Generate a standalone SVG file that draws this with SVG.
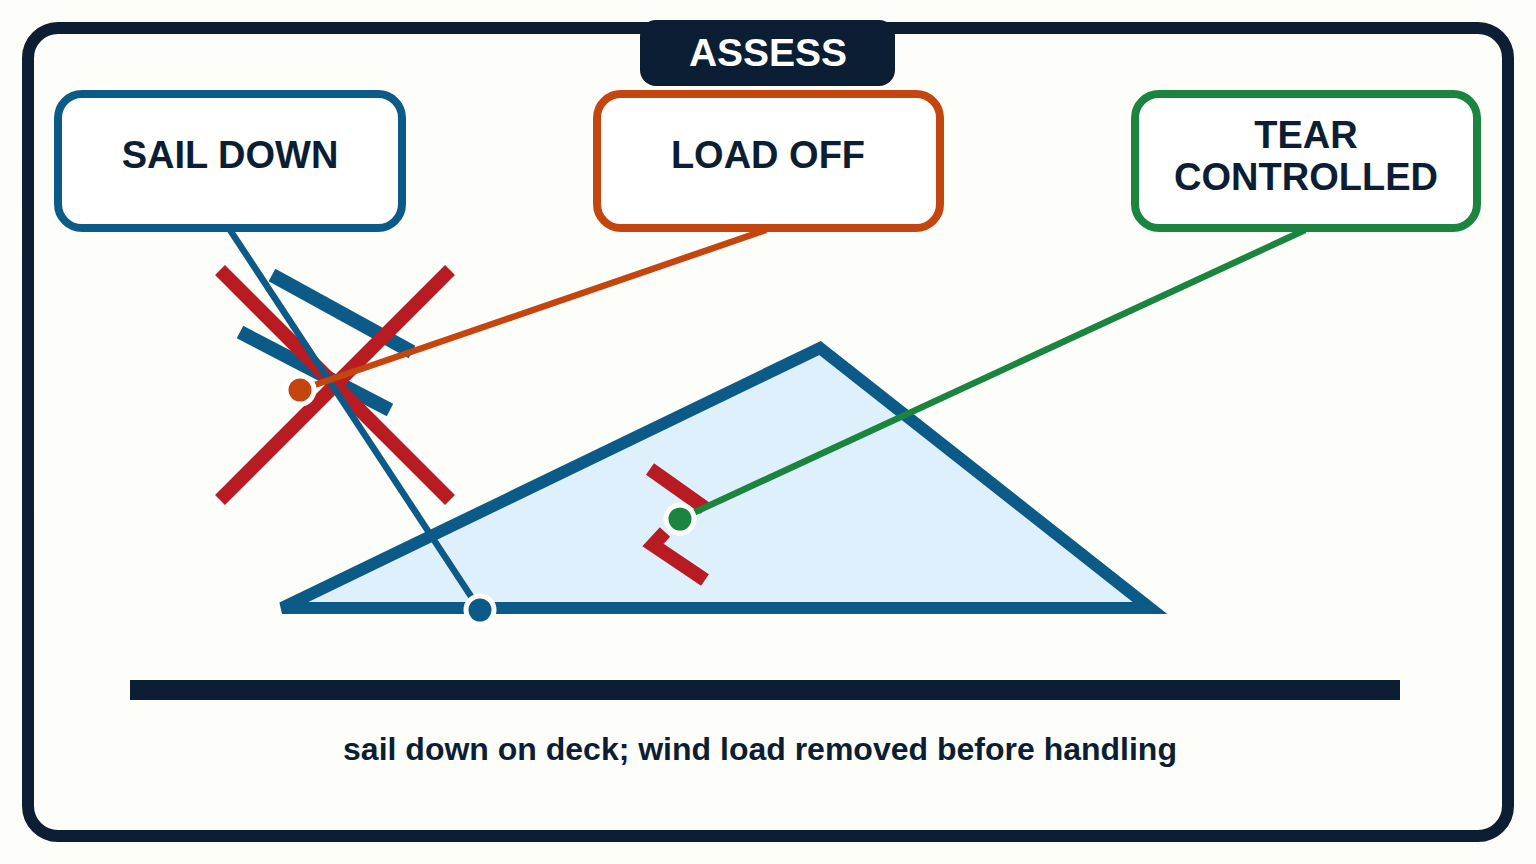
<svg xmlns="http://www.w3.org/2000/svg" width="1536" height="864" viewBox="0 0 1536 864">
<style>
.t{font-family:"Liberation Sans",Arial,sans-serif;font-weight:bold;fill:#0c1e33;text-anchor:middle}
.box{fill:#fff;stroke-width:8}
.red{stroke:#b81c22;stroke-width:14;fill:none}
</style>
<rect width="1536" height="864" fill="#fdfdf9"/>
<rect x="28" y="28" width="1480" height="808" rx="30" fill="#fdfdf9" stroke="#0c1e33" stroke-width="12"/>
<g id="assess"><rect x="640" y="20" width="255" height="66" rx="16" fill="#0c1e33"/><text class="t" x="768" y="66" font-size="39" style="fill:#fff">ASSESS</text></g>
<g id="scene">
<polygon points="282,608 820,348 1150,608" fill="#dff0fd" stroke="#0b5a87" stroke-width="12"/>
<line x1="272" y1="275" x2="412" y2="352" stroke="#0b5a87" stroke-width="14"/>
<line x1="240" y1="332" x2="390" y2="410" stroke="#0b5a87" stroke-width="14"/>
<line class="red" x1="220" y1="270" x2="450" y2="500"/>
<line class="red" x1="450" y1="270" x2="220" y2="500"/>
<line class="red" x1="650" y1="469" x2="705" y2="508" stroke-width="13"/>
<polyline class="red" points="665,532 653,545 705,580" stroke-width="13"/>
<rect x="130" y="680" width="1270" height="20" fill="#0c1e33"/>
<text class="t" x="760" y="760" font-size="32">sail down on deck; wind load removed before handling</text>
</g>
<g id="connectors" stroke-width="6.5">
<line x1="230" y1="230" x2="480" y2="610" stroke="#0b5a87"/>
<line x1="300" y1="390" x2="766" y2="230" stroke="#c4460e"/>
<line x1="680" y1="519" x2="1305" y2="230" stroke="#1b8540"/>
<circle cx="480" cy="610" r="14" fill="#0b5a87" stroke="#fff" stroke-width="5"/>
<circle cx="300" cy="390" r="14" fill="#c4460e" stroke="#fff" stroke-width="5"/>
<circle cx="680" cy="519" r="14" fill="#1b8540" stroke="#fff" stroke-width="5"/>
</g>
<g id="sail-down"><rect class="box" x="58" y="94" width="344" height="134" rx="24" stroke="#0b5a87"/><text class="t" x="230" y="168" font-size="38">SAIL DOWN</text></g>
<g id="load-off"><rect class="box" x="597" y="94" width="343" height="134" rx="24" stroke="#c4460e"/><text class="t" x="768" y="168" font-size="38">LOAD OFF</text></g>
<g id="tear"><rect class="box" x="1135" y="94" width="342" height="134" rx="24" stroke="#1b8540"/><text class="t" x="1306" y="148" font-size="38">TEAR</text><text class="t" x="1306" y="190" font-size="38">CONTROLLED</text></g>
</svg>
